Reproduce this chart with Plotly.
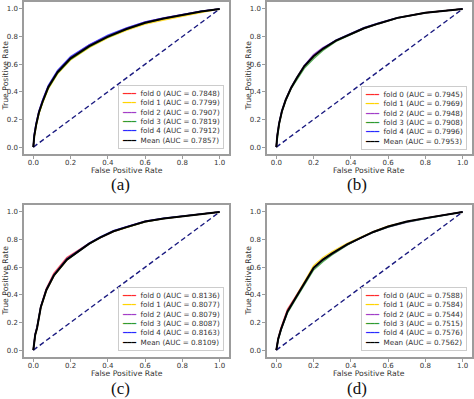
import plotly.graph_objects as go

# ---------------- data ----------------
FOLD_NAMES = ["fold 0", "fold 1", "fold 2", "fold 3", "fold 4"]
MEAN_NAME = "Mean"
TICK_VALS = [0, 0.2, 0.4, 0.6, 0.8, 1.0]
TICK_TEXT = ["0.0", "0.2", "0.4", "0.6", "0.8", "1.0"]
PANEL_LABELS = ["(a)", "(b)", "(c)", "(d)"]
X_TITLE = "False Positive Rate"
Y_TITLE = "True Positive Rate"
CHANCE_X = [0, 1]
CHANCE_Y = [0, 1]

# panel (a)
A_FPR = [0, 0.005, 0.015, 0.03, 0.05, 0.08, 0.13, 0.2, 0.3, 0.4, 0.5, 0.6, 0.7, 0.8, 0.9, 1.0]
A_F0 = [0, 0.08, 0.16, 0.25, 0.33, 0.43, 0.54, 0.64, 0.73, 0.80, 0.855, 0.90, 0.93, 0.958, 0.982, 1.0]
A_F1 = [0, 0.07, 0.15, 0.24, 0.32, 0.42, 0.53, 0.63, 0.72, 0.79, 0.845, 0.89, 0.92, 0.948, 0.976, 1.0]
A_F2 = [0, 0.09, 0.17, 0.26, 0.34, 0.44, 0.55, 0.65, 0.74, 0.805, 0.86, 0.905, 0.935, 0.96, 0.984, 1.0]
A_F3 = [0, 0.08, 0.16, 0.245, 0.325, 0.425, 0.535, 0.635, 0.725, 0.795, 0.852, 0.898, 0.93, 0.957, 0.981, 1.0]
A_F4 = [0, 0.09, 0.17, 0.26, 0.34, 0.445, 0.555, 0.655, 0.74, 0.81, 0.862, 0.905, 0.935, 0.96, 0.983, 1.0]
A_MEAN = [0, 0.08, 0.16, 0.25, 0.33, 0.433, 0.542, 0.642, 0.731, 0.80, 0.855, 0.90, 0.93, 0.957, 0.981, 1.0]
A_AUC = [0.7848, 0.7799, 0.7907, 0.7819, 0.7912]
A_MEAN_AUC = 0.7857

# panel (b)
B_FPR = [0, 0.005, 0.015, 0.03, 0.05, 0.08, 0.11, 0.15, 0.2, 0.25, 0.32, 0.4, 0.47, 0.55, 0.65, 0.8, 0.9, 1.0]
B_F0 = [0, 0.08, 0.17, 0.26, 0.34, 0.43, 0.50, 0.585, 0.66, 0.712, 0.77, 0.82, 0.86, 0.895, 0.935, 0.972, 0.988, 1.0]
B_F1 = [0, 0.08, 0.17, 0.26, 0.345, 0.435, 0.505, 0.59, 0.655, 0.71, 0.772, 0.822, 0.862, 0.897, 0.936, 0.973, 0.989, 1.0]
B_F2 = [0, 0.08, 0.17, 0.26, 0.34, 0.43, 0.50, 0.59, 0.67, 0.72, 0.77, 0.818, 0.858, 0.893, 0.933, 0.971, 0.988, 1.0]
B_F3 = [0, 0.075, 0.165, 0.255, 0.335, 0.425, 0.49, 0.57, 0.64, 0.70, 0.765, 0.817, 0.858, 0.894, 0.934, 0.971, 0.988, 1.0]
B_F4 = [0, 0.085, 0.175, 0.265, 0.345, 0.435, 0.505, 0.59, 0.66, 0.715, 0.775, 0.824, 0.864, 0.898, 0.937, 0.973, 0.989, 1.0]
B_MEAN = [0, 0.08, 0.17, 0.26, 0.34, 0.43, 0.50, 0.585, 0.657, 0.711, 0.77, 0.82, 0.86, 0.895, 0.935, 0.972, 0.988, 1.0]
B_AUC = [0.7945, 0.7969, 0.7948, 0.7908, 0.7996]
B_MEAN_AUC = 0.7953

# panel (c)
C_FPR = [0, 0.005, 0.01, 0.02, 0.04, 0.07, 0.11, 0.18, 0.25, 0.3, 0.36, 0.43, 0.5, 0.6, 0.7, 0.82, 0.9, 1.0]
C_F0 = [0, 0.075, 0.115, 0.165, 0.315, 0.445, 0.555, 0.67, 0.73, 0.772, 0.816, 0.861, 0.891, 0.931, 0.953, 0.972, 0.986, 1.0]
C_F1 = [0, 0.065, 0.105, 0.155, 0.305, 0.43, 0.535, 0.65, 0.725, 0.77, 0.814, 0.858, 0.888, 0.928, 0.951, 0.971, 0.985, 1.0]
C_F2 = [0, 0.07, 0.11, 0.16, 0.31, 0.432, 0.537, 0.652, 0.722, 0.768, 0.813, 0.858, 0.889, 0.929, 0.951, 0.972, 0.986, 1.0]
C_F3 = [0, 0.07, 0.11, 0.16, 0.31, 0.434, 0.538, 0.653, 0.723, 0.769, 0.814, 0.859, 0.889, 0.929, 0.952, 0.972, 0.986, 1.0]
C_F4 = [0, 0.075, 0.115, 0.165, 0.315, 0.44, 0.545, 0.66, 0.73, 0.775, 0.82, 0.865, 0.894, 0.933, 0.955, 0.974, 0.987, 1.0]
C_MEAN = [0, 0.07, 0.11, 0.16, 0.31, 0.435, 0.54, 0.655, 0.725, 0.77, 0.815, 0.86, 0.89, 0.93, 0.952, 0.972, 0.986, 1.0]
C_AUC = [0.8136, 0.8077, 0.8079, 0.8087, 0.8163]
C_MEAN_AUC = 0.8109

# panel (d)
D_FPR = [0, 0.01, 0.025, 0.06, 0.1, 0.15, 0.2, 0.25, 0.3, 0.38, 0.45, 0.52, 0.6, 0.7, 0.8, 0.9, 1.0]
D_F0 = [0, 0.085, 0.16, 0.295, 0.38, 0.49, 0.598, 0.655, 0.70, 0.765, 0.813, 0.855, 0.895, 0.93, 0.955, 0.979, 1.0]
D_F1 = [0, 0.08, 0.15, 0.28, 0.375, 0.495, 0.61, 0.67, 0.712, 0.772, 0.818, 0.858, 0.896, 0.93, 0.955, 0.979, 1.0]
D_F2 = [0, 0.08, 0.15, 0.28, 0.37, 0.48, 0.59, 0.65, 0.695, 0.762, 0.81, 0.852, 0.89, 0.925, 0.952, 0.977, 1.0]
D_F3 = [0, 0.075, 0.145, 0.27, 0.36, 0.475, 0.58, 0.64, 0.69, 0.76, 0.81, 0.852, 0.891, 0.927, 0.953, 0.978, 1.0]
D_F4 = [0, 0.08, 0.15, 0.28, 0.37, 0.485, 0.595, 0.655, 0.70, 0.765, 0.813, 0.855, 0.894, 0.93, 0.955, 0.979, 1.0]
D_MEAN = [0, 0.08, 0.15, 0.28, 0.37, 0.485, 0.595, 0.655, 0.70, 0.765, 0.813, 0.855, 0.894, 0.93, 0.955, 0.979, 1.0]
D_AUC = [0.7588, 0.7584, 0.7544, 0.7515, 0.7576]
D_MEAN_AUC = 0.7562

# ---------------- styling / layout ----------------
W, H = 474, 399
FOLD_COLORS = ["#ff2a2a", "#ffd400", "#a23cc8", "#2f9a2f", "#2a2aff"]
MEAN_COLOR = "#000000"
CHANCE_COLOR = "#1a1a80"
SPINE = "#9c9c9c"
TEXT = "#333333"
SANS = "DejaVu Sans"
SERIF = "Liberation Serif"

panels = [
    dict(fpr=A_FPR, folds=[A_F0, A_F1, A_F2, A_F3, A_F4], mean=A_MEAN, aucs=A_AUC, mauc=A_MEAN_AUC,
         box=(24, 229, 2, 154), label=(120, 185), xt=(127, 170), yt=(4.5, 76), leg=(224, 149)),
    dict(fpr=B_FPR, folds=[B_F0, B_F1, B_F2, B_F3, B_F4], mean=B_MEAN, aucs=B_AUC, mauc=B_MEAN_AUC,
         box=(267, 472, 2, 154), label=(357, 185), xt=(369, 170), yt=(247.5, 76), leg=(467, 150)),
    dict(fpr=C_FPR, folds=[C_F0, C_F1, C_F2, C_F3, C_F4], mean=C_MEAN, aucs=C_AUC, mauc=C_MEAN_AUC,
         box=(24, 229, 205, 357), label=(120, 388.5), xt=(127, 373.5), yt=(4.5, 281), leg=(224, 351)),
    dict(fpr=D_FPR, folds=[D_F0, D_F1, D_F2, D_F3, D_F4], mean=D_MEAN, aucs=D_AUC, mauc=D_MEAN_AUC,
         box=(267, 472, 205, 357), label=(357, 388.5), xt=(369, 373.5), yt=(247.5, 281), leg=(467, 351)),
]


def px(x):
    return x / W


def py(y):
    return 1 - y / H


fig = go.Figure()
annotations = []
layout_axes = {}

for i, p in enumerate(panels):
    n = "" if i == 0 else str(i + 1)
    xa, ya = "x" + n, "y" + n
    for k in range(5):
        fig.add_trace(go.Scatter(
            x=p["fpr"], y=p["folds"][k], mode="lines", xaxis=xa, yaxis=ya,
            name=f"{FOLD_NAMES[k]} (AUC = {p['aucs'][k]:.4f})",
            line=dict(color=FOLD_COLORS[k], width=1.4), opacity=0.8, showlegend=False))
    fig.add_trace(go.Scatter(
        x=CHANCE_X, y=CHANCE_Y, mode="lines", xaxis=xa, yaxis=ya, name="Chance",
        line=dict(color=CHANCE_COLOR, width=1.4, dash="5px,3px"), showlegend=False))
    fig.add_trace(go.Scatter(
        x=p["fpr"], y=p["mean"], mode="lines", xaxis=xa, yaxis=ya,
        name=f"{MEAN_NAME} (AUC = {p['mauc']:.4f})",
        line=dict(color=MEAN_COLOR, width=2), showlegend=False))

    x0, x1, y0, y1 = p["box"]
    common = dict(range=[-0.05, 1.05], showline=True, mirror=True, linecolor=SPINE, linewidth=1.5,
                  showgrid=False, zeroline=False, ticks="outside", ticklen=3, tickcolor=SPINE,
                  tickwidth=1, tickvals=TICK_VALS, ticktext=TICK_TEXT,
                  tickfont=dict(family=SANS, size=7, color=TEXT), automargin=False, fixedrange=True)
    layout_axes["xaxis" + n] = dict(domain=[px(x0), px(x1)], anchor=ya, ticklabelstandoff=-2, **common)
    layout_axes["yaxis" + n] = dict(domain=[py(y1), py(y0)], anchor=xa, **common)

    # panel label
    annotations.append(dict(text=PANEL_LABELS[i], x=px(p["label"][0]), y=py(p["label"][1]),
                            xref="paper", yref="paper", showarrow=False, xanchor="center",
                            yanchor="middle", font=dict(family=SERIF, size=17, color="#111111")))
    # axis titles
    annotations.append(dict(text=X_TITLE, x=px(p["xt"][0]), y=py(p["xt"][1]), xref="paper",
                            yref="paper", showarrow=False, xanchor="center", yanchor="middle",
                            font=dict(family=SANS, size=7.7, color=TEXT)))
    annotations.append(dict(text=Y_TITLE, x=px(p["yt"][0]), y=py(p["yt"][1]), xref="paper",
                            yref="paper", showarrow=False, xanchor="center", yanchor="middle",
                            textangle=-90, font=dict(family=SANS, size=7.7, color=TEXT)))
    # legend box
    rows = []
    for k in range(5):
        rows.append(f'<span style="color:{FOLD_COLORS[k]}">\u2501\u2501\u2501</span>\u00a0\u00a0'
                    f'{FOLD_NAMES[k]} (AUC = {p["aucs"][k]:.4f})')
    rows.append(f'<span style="color:{MEAN_COLOR}">\u2501\u2501\u2501</span>\u00a0\u00a0'
                f'{MEAN_NAME} (AUC = {p["mauc"]:.4f})')
    annotations.append(dict(text="<br>".join(rows), x=px(p["leg"][0]), y=py(p["leg"][1]),
                            xref="paper", yref="paper", showarrow=False, xanchor="right",
                            yanchor="bottom", align="left", bgcolor="rgba(255,255,255,0.85)",
                            bordercolor="#cccccc", borderwidth=1, borderpad=3,
                            font=dict(family=SANS, size=7.2, color=TEXT)))

fig.update_layout(width=W, height=H, autosize=False, margin=dict(l=0, r=0, t=0, b=0),
                  paper_bgcolor="white", plot_bgcolor="white", annotations=annotations,
                  showlegend=False, **layout_axes)

fig.write_html("out.html", config={"displayModeBar": False},
               post_script="document.body.style.margin='0';document.body.style.padding='0';")
